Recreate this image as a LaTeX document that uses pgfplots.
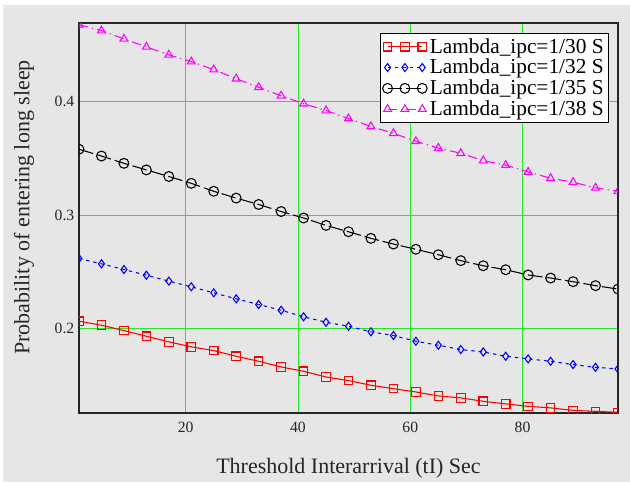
\documentclass[border=0pt]{standalone}
\usepackage{pgfplots}
\pgfplotsset{compat=1.18}
\usepackage{fontspec}
\setmainfont{Liberation Serif}
\definecolor{bggray}{RGB}{230,230,230}
\definecolor{gridgreen}{RGB}{40,230,40}
\definecolor{mag}{RGB}{255,0,255}
\begin{document}
\begin{tikzpicture}
\fill[white] (0,0) rectangle (472.5pt,361.5pt);
\fill[bggray] (2.25pt,0) rectangle (472.5pt,357.75pt);
\begin{axis}[
  at={(59.25pt,51.75pt)}, anchor=south west,
  scale only axis, width=404.25pt, height=292.5pt,
  xmin=1, xmax=97, ymin=0.126, ymax=0.469,
  xtick={20,40,60,80}, ytick={0.2,0.3,0.4},
  major tick length=0pt,
  grid=major,
  clip marker paths=true,
  major grid style={gridgreen, line width=0.65pt},
  axis line style={black!85, line width=1.1pt},
  /pgf/number format/assume math mode=true,
  tick label style={font=\fontsize{11.75}{14}\selectfont, text=black!85},
  xticklabel style={yshift=-3pt},
  label style={font=\fontsize{16.5}{19}\selectfont, text=black!85},
  xlabel={Threshold Interarrival (tI) Sec},
  ylabel={Probability of entering long sleep},
  xlabel style={at={(axis description cs:0.5,-0.141)}, anchor=center},
  ylabel style={at={(axis description cs:-0.102,0.527)}, anchor=center},
  legend style={at={(0.983,0.974)}, anchor=north east, draw=black, line width=0.8pt,
    fill=white, font=\fontsize{16}{18}\selectfont, inner sep=1.5pt, row sep=-1pt},
  legend cell align=left,
  legend image code/.code={\draw[#1] plot coordinates {(0pt,0pt) (13pt,0pt) (26pt,0pt)};},
]
\addplot[red, line width=0.8pt, mark=square, mark size=3.2pt, mark options={solid}] coordinates {
(1,0.2067)(5,0.2032)(9,0.1985)(13,0.1935)(17,0.1886)(21,0.1842)(25,0.1809)(29,0.1759)(33,0.1715)(37,0.1665)(41,0.1627)(45,0.1577)(49,0.1545)(53,0.1504)(57,0.1474)(61,0.1445)(65,0.1410)(69,0.1393)(73,0.1363)(77,0.1340)(81,0.1319)(85,0.1305)(89,0.1283)(93,0.1275)(97,0.1266)};
\addlegendentry{Lambda\_ipc=1/30 S}
\addplot[blue, line width=0.8pt, dash pattern=on 2.5pt off 3pt, mark=diamond, mark size=3pt, mark options={solid}] coordinates {
(1,0.2619)(5,0.2572)(9,0.2522)(13,0.2472)(17,0.2420)(21,0.2370)(25,0.2317)(29,0.2264)(33,0.2214)(37,0.2164)(41,0.2106)(45,0.2058)(49,0.2023)(53,0.1974)(57,0.1941)(61,0.1891)(65,0.1856)(69,0.1818)(73,0.1797)(77,0.1759)(81,0.1736)(85,0.1715)(89,0.1686)(93,0.1662)(97,0.1648)};
\addlegendentry{Lambda\_ipc=1/32 S}
\addplot[black, line width=0.8pt, dash pattern=on 11pt off 3pt, mark=o, mark size=3.7pt, mark options={solid}] coordinates {
(1,0.3580)(5,0.3520)(9,0.3456)(13,0.3398)(17,0.3340)(21,0.3280)(25,0.3210)(29,0.3150)(33,0.3094)(37,0.3032)(41,0.2975)(45,0.2910)(49,0.2854)(53,0.2796)(57,0.2746)(61,0.2700)(65,0.2652)(69,0.2600)(73,0.2555)(77,0.2520)(81,0.2474)(85,0.2447)(89,0.2415)(93,0.2380)(97,0.2350)};
\addlegendentry{Lambda\_ipc=1/35 S}
\addplot[mag, line width=0.8pt, dash pattern=on 7pt off 3pt on 1pt off 3pt, mark=triangle, mark size=3.4pt, mark options={solid}] coordinates {
(1,0.4675)(5,0.4623)(9,0.4550)(13,0.4480)(17,0.4410)(21,0.4350)(25,0.4280)(29,0.4200)(33,0.4125)(37,0.4050)(41,0.3980)(45,0.3920)(49,0.3850)(53,0.3780)(57,0.3720)(61,0.3650)(65,0.3590)(69,0.3544)(73,0.3480)(77,0.3440)(81,0.3380)(85,0.3325)(89,0.3290)(93,0.3240)(97,0.3210)};
\addlegendentry{Lambda\_ipc=1/38 S}
\end{axis}
\end{tikzpicture}
\end{document}
